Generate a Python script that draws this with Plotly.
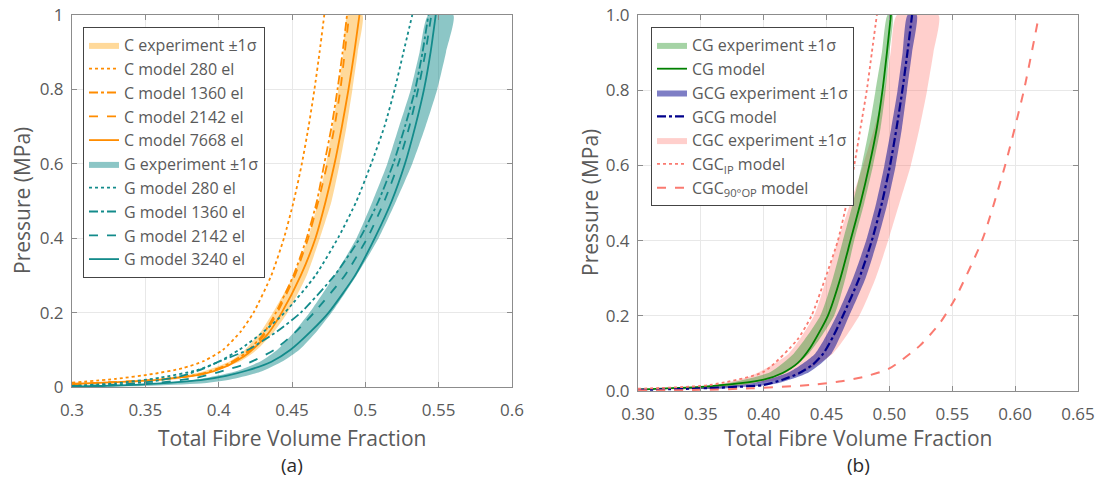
import plotly.graph_objects as go

# ---------------- Panel (a) data ----------------
xa_ticks = [0.3, 0.35, 0.4, 0.45, 0.5, 0.55, 0.6]
xa_ticktext = ["0.3", "0.35", "0.4", "0.45", "0.5", "0.55", "0.6"]
ya_ticks = [0, 0.2, 0.4, 0.6, 0.8, 1.0]
ya_ticktext = ["0", "0.2", "0.4", "0.6", "0.8", "1"]

# C experiment band (x of left / right edge at given pressures)
c_band_p = [0.01, 0.02, 0.04, 0.07, 0.1, 0.15, 0.2, 0.3, 0.4, 0.5, 0.6, 0.7, 0.8, 0.9, 1.0]
c_band_left = [0.33, 0.36, 0.388, 0.408, 0.418, 0.429, 0.437, 0.451, 0.461, 0.468, 0.4733, 0.4777, 0.4816, 0.4850, 0.488]
c_band_right = [0.335, 0.37, 0.395, 0.415, 0.426, 0.438, 0.447, 0.460, 0.469, 0.477, 0.4825, 0.4872, 0.4912, 0.4948, 0.498]

c280_x = [0.30, 0.33, 0.355, 0.375, 0.39, 0.403, 0.4152, 0.4238, 0.4359, 0.4445, 0.4512, 0.4567, 0.4613, 0.4653, 0.4688, 0.472]
c280_p = [0.012, 0.022, 0.035, 0.05, 0.07, 0.10, 0.15, 0.20, 0.30, 0.40, 0.50, 0.60, 0.70, 0.80, 0.90, 1.0]

c_model_p = [0.008, 0.013, 0.02, 0.035, 0.055, 0.09, 0.14, 0.20, 0.30, 0.40, 0.50, 0.60, 0.70, 0.80, 0.90, 1.0]
c1360_x = [0.30, 0.33, 0.36, 0.388, 0.403, 0.418, 0.430, 0.439, 0.451, 0.460, 0.467, 0.472, 0.477, 0.481, 0.4845, 0.4875]
c2142_x = [0.30, 0.33, 0.36, 0.389, 0.404, 0.419, 0.431, 0.440, 0.452, 0.461, 0.468, 0.474, 0.479, 0.483, 0.486, 0.489]
c7668_x = [0.30, 0.33, 0.36, 0.39, 0.405, 0.42, 0.433, 0.443, 0.456, 0.466, 0.473, 0.479, 0.484, 0.4885, 0.4925, 0.496]

# G experiment band
g_band_p = [0.002, 0.01, 0.02, 0.04, 0.07, 0.1, 0.15, 0.2, 0.3, 0.4, 0.5, 0.6, 0.7, 0.8, 0.9, 1.0]
g_band_left = [0.325, 0.36, 0.385, 0.41, 0.429, 0.440, 0.452, 0.462, 0.479, 0.494, 0.505, 0.515, 0.523, 0.531, 0.537, 0.543]
g_band_right = [0.345, 0.39, 0.408, 0.428, 0.444, 0.455, 0.467, 0.477, 0.494, 0.509, 0.521, 0.532, 0.541, 0.549, 0.555, 0.560]

g280_x = [0.30, 0.33, 0.36, 0.385, 0.40, 0.414, 0.431, 0.445, 0.466, 0.482, 0.494, 0.504, 0.513, 0.520, 0.526, 0.532]
g280_p = [0.003, 0.01, 0.025, 0.045, 0.068, 0.10, 0.15, 0.20, 0.30, 0.405, 0.50, 0.60, 0.70, 0.80, 0.90, 1.0]

g1360_x = [0.30, 0.33, 0.355, 0.375, 0.39, 0.40, 0.42, 0.440, 0.456, 0.479, 0.497, 0.509, 0.519, 0.527, 0.534, 0.539, 0.543]
g1360_p = [0.002, 0.006, 0.015, 0.03, 0.05, 0.068, 0.10, 0.15, 0.20, 0.30, 0.405, 0.50, 0.60, 0.70, 0.80, 0.90, 1.0]

g2142_x = [0.30, 0.33, 0.36, 0.385, 0.40, 0.42, 0.438, 0.453, 0.465, 0.486, 0.502, 0.513, 0.5225, 0.530, 0.536, 0.541, 0.545]
g2142_p = [0.002, 0.005, 0.012, 0.025, 0.04, 0.064, 0.10, 0.15, 0.20, 0.30, 0.405, 0.50, 0.60, 0.70, 0.80, 0.90, 1.0]

g3240_x = [0.30, 0.33, 0.36, 0.39, 0.405, 0.42, 0.436, 0.449, 0.463, 0.475, 0.493, 0.507, 0.518, 0.527, 0.534, 0.540, 0.5445, 0.548]
g3240_p = [0.001, 0.004, 0.01, 0.02, 0.03, 0.045, 0.068, 0.10, 0.15, 0.20, 0.30, 0.405, 0.50, 0.60, 0.70, 0.80, 0.90, 1.0]

# ---------------- Panel (b) data ----------------
xb_ticks = [0.30, 0.35, 0.40, 0.45, 0.50, 0.55, 0.60, 0.65]
xb_ticktext = ["0.30", "0.35", "0.40", "0.45", "0.50", "0.55", "0.60", "0.65"]
yb_ticks = [0, 0.2, 0.4, 0.6, 0.8, 1.0]
yb_ticktext = ["0.0", "0.2", "0.4", "0.6", "0.8", "1.0"]

cg_band_p = [0.005, 0.02, 0.05, 0.1, 0.2, 0.3, 0.4, 0.5, 0.6, 0.7, 0.8, 0.9, 1.0]
cg_band_left = [0.32, 0.37, 0.405, 0.424, 0.445, 0.455, 0.463, 0.471, 0.478, 0.484, 0.489, 0.494, 0.4985]
cg_band_right = [0.35, 0.39, 0.418, 0.436, 0.456, 0.465, 0.472, 0.480, 0.487, 0.493, 0.497, 0.500, 0.5025]

cg_x = [0.30, 0.35, 0.38, 0.40, 0.415, 0.427, 0.437, 0.451, 0.461, 0.469, 0.477, 0.484, 0.490, 0.4945, 0.498, 0.5012]
cg_p = [0.004, 0.011, 0.020, 0.030, 0.048, 0.074, 0.115, 0.20, 0.30, 0.40, 0.50, 0.60, 0.70, 0.80, 0.90, 1.0]

gcg_band_p = [0.005, 0.02, 0.05, 0.1, 0.2, 0.3, 0.4, 0.5, 0.6, 0.7, 0.8, 0.9, 1.0]
gcg_band_left = [0.33, 0.39, 0.42, 0.441, 0.458, 0.471, 0.4815, 0.4895, 0.496, 0.5015, 0.5065, 0.5105, 0.5145]
gcg_band_right = [0.36, 0.41, 0.436, 0.454, 0.468, 0.481, 0.4905, 0.4985, 0.505, 0.510, 0.514, 0.518, 0.5217]

gcg_x = [0.30, 0.35, 0.40, 0.415, 0.428, 0.439, 0.4475, 0.456, 0.463, 0.476, 0.486, 0.494, 0.5005, 0.5057, 0.5103, 0.5143, 0.518]
gcg_p = [0.003, 0.007, 0.016, 0.03, 0.047, 0.07, 0.10, 0.15, 0.20, 0.30, 0.40, 0.50, 0.60, 0.70, 0.80, 0.90, 1.0]

cgc_band_p = [0.004, 0.01, 0.04, 0.1, 0.2, 0.3, 0.4, 0.5, 0.6, 0.7, 0.8, 0.9, 1.0]
cgc_band_left = [0.31, 0.35, 0.39, 0.42, 0.440, 0.450, 0.459, 0.469, 0.479, 0.488, 0.496, 0.501, 0.506]
cgc_band_right = [0.34, 0.37, 0.425, 0.455, 0.476, 0.489, 0.499, 0.508, 0.517, 0.524, 0.530, 0.535, 0.539]

cgc_ip_x = [0.30, 0.357, 0.40, 0.4266, 0.438, 0.449, 0.459, 0.466, 0.472, 0.477, 0.482, 0.486, 0.490]
cgc_ip_p = [0.006, 0.016, 0.051, 0.136, 0.20, 0.30, 0.40, 0.50, 0.60, 0.70, 0.80, 0.90, 1.0]

cgc_op_x = [0.30, 0.35, 0.39, 0.437, 0.46, 0.48, 0.50, 0.524, 0.540, 0.552, 0.574, 0.592, 0.607, 0.619]
cgc_op_p = [0.001, 0.003, 0.007, 0.016, 0.025, 0.038, 0.06, 0.12, 0.18, 0.244, 0.403, 0.60, 0.80, 1.0]

# ---------------- styling ----------------
FONT = "Open Sans"
TXT = "#5a5a5a"
ORANGE = "#FF8C00"
TEAL = "#138B8B"
GREEN = "#008000"
NAVY = "#00008B"
SALMON = "#FA7A70"

fig = go.Figure()


def band(x_left, x_right, p, color, name, xa, ya, legend, rank):
    fig.add_trace(go.Scatter(
        x=list(x_left) + list(x_right)[::-1],
        y=list(p) + list(p)[::-1],
        fill="toself", fillcolor=color, mode="lines",
        line=dict(width=0, color=color, shape="spline", smoothing=0.6),
        name=name, xaxis=xa, yaxis=ya, legend=legend, legendrank=rank,
        hoverinfo="skip"))


def line(x, p, color, dash, width, name, xa, ya, legend, rank):
    fig.add_trace(go.Scatter(
        x=x, y=p, mode="lines",
        line=dict(color=color, dash=dash, width=width, shape="spline", smoothing=0.6),
        name=name, xaxis=xa, yaxis=ya, legend=legend, legendrank=rank))


# panel (a)
band(c_band_left, c_band_right, c_band_p, "rgba(255,170,30,0.45)", "C experiment ±1σ", "x", "y", "legend", 1)
band(g_band_left, g_band_right, g_band_p, "rgba(0,128,128,0.45)", "G experiment ±1σ", "x", "y", "legend", 6)
line(c280_x, c280_p, ORANGE, "dot", 1.8, "C model 280 el", "x", "y", "legend", 2)
line(c1360_x, c_model_p, ORANGE, "dashdot", 1.8, "C model 1360 el", "x", "y", "legend", 3)
line(c2142_x, c_model_p, ORANGE, "dash", 1.8, "C model 2142 el", "x", "y", "legend", 4)
line(c7668_x, c_model_p, ORANGE, "solid", 1.8, "C model 7668 el", "x", "y", "legend", 5)
line(g280_x, g280_p, TEAL, "dot", 1.8, "G model 280 el", "x", "y", "legend", 7)
line(g1360_x, g1360_p, TEAL, "dashdot", 1.8, "G model 1360 el", "x", "y", "legend", 8)
line(g2142_x, g2142_p, TEAL, "dash", 1.8, "G model 2142 el", "x", "y", "legend", 9)
line(g3240_x, g3240_p, TEAL, "solid", 1.8, "G model 3240 el", "x", "y", "legend", 10)

# panel (b)
band(cgc_band_left, cgc_band_right, cgc_band_p, "rgba(255,110,100,0.33)", "CGC experiment ±1σ", "x2", "y2", "legend2", 5)
band(cg_band_left, cg_band_right, cg_band_p, "rgba(40,150,40,0.42)", "CG experiment ±1σ", "x2", "y2", "legend2", 1)
band(gcg_band_left, gcg_band_right, gcg_band_p, "rgba(20,20,150,0.55)", "GCG experiment ±1σ", "x2", "y2", "legend2", 3)
line(cg_x, cg_p, GREEN, "solid", 1.8, "CG model", "x2", "y2", "legend2", 2)
line(gcg_x, gcg_p, NAVY, "dashdot", 2.2, "GCG model", "x2", "y2", "legend2", 4)
line(cgc_ip_x, cgc_ip_p, SALMON, "dot", 1.8, "CGC<sub>IP</sub> model", "x2", "y2", "legend2", 6)
line(cgc_op_x, cgc_op_p, SALMON, "dash", 2.0, "CGC<sub>90°OP</sub> model", "x2", "y2", "legend2", 7)

axis_common = dict(
    showline=True, linecolor="#8c8c8c", linewidth=1, mirror="ticks",
    ticks="inside", ticklen=5, tickcolor="#8c8c8c",
    showgrid=True, gridcolor="#e8e8e8", gridwidth=1, zeroline=False,
    tickfont=dict(family=FONT, size=17, color=TXT), automargin=False,
)

W, H = 1099, 484
fig.update_layout(
    width=W, height=H, margin=dict(l=0, r=0, t=0, b=0, autoexpand=False),
    paper_bgcolor="white", plot_bgcolor="white",
    font=dict(family=FONT, color=TXT),
    xaxis=dict(domain=[72 / W, 512 / W], range=[0.3, 0.6], tickvals=xa_ticks, ticktext=xa_ticktext,
               anchor="y", ticklabelstandoff=8, **axis_common),
    yaxis=dict(domain=[1 - 387 / H, 1 - 15 / H], range=[0, 1], tickvals=ya_ticks, ticktext=ya_ticktext,
               anchor="x", ticklabelstandoff=4, **axis_common),
    xaxis2=dict(domain=[638 / W, 1078 / W], range=[0.3, 0.65], tickvals=xb_ticks, ticktext=xb_ticktext,
                anchor="y2", ticklabelstandoff=8, **axis_common),
    yaxis2=dict(domain=[1 - 391 / H, 1 - 15 / H], range=[0, 1], tickvals=yb_ticks, ticktext=yb_ticktext,
                anchor="x2", ticklabelstandoff=4, **axis_common),
    legend=dict(x=83 / W, y=1 - 27 / H, xanchor="left", yanchor="top",
                bgcolor="white", bordercolor="#444", borderwidth=1,
                font=dict(family=FONT, size=16, color=TXT), tracegroupgap=0),
    legend2=dict(x=651 / W, y=1 - 27 / H, xanchor="left", yanchor="top",
                 bgcolor="white", bordercolor="#444", borderwidth=1,
                 font=dict(family=FONT, size=16, color=TXT), tracegroupgap=0),
    showlegend=True,
)

ann = [
    dict(text="Pressure (MPa)", x=22 / W, y=1 - 201 / H, textangle=-90, font=dict(size=21)),
    dict(text="Pressure (MPa)", x=590 / W, y=1 - 203 / H, textangle=-90, font=dict(size=21)),
    dict(text="Total Fibre Volume Fraction", x=292 / W, y=1 - 438 / H, font=dict(size=21)),
    dict(text="Total Fibre Volume Fraction", x=858 / W, y=1 - 438 / H, font=dict(size=21)),
    dict(text="(a)", x=292 / W, y=1 - 465 / H, font=dict(size=19, color="#2a2a2a")),
    dict(text="(b)", x=858 / W, y=1 - 465 / H, font=dict(size=19, color="#2a2a2a")),
]
for a in ann:
    a.update(xref="paper", yref="paper", showarrow=False, xanchor="center", yanchor="middle")
    a["font"] = dict(family=FONT, color=a["font"].get("color", TXT), size=a["font"]["size"])
    fig.add_annotation(**a)

fig.write_html("out.html")
